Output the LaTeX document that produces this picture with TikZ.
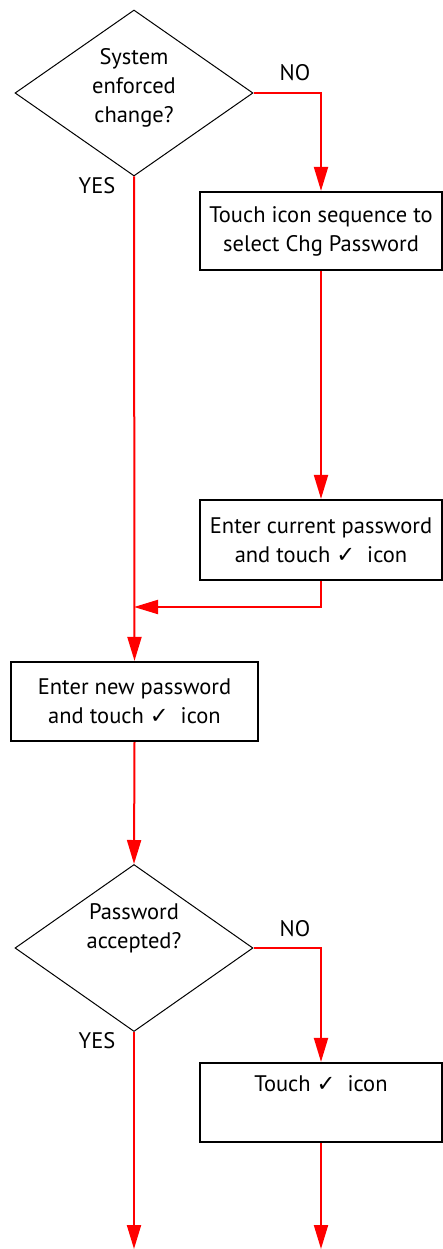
\documentclass[tikz,border=0pt]{standalone}
\usepackage{fontspec}
\setmainfont{PT Sans}
\newfontfamily\symfont{DejaVu Sans}
\usetikzlibrary{shapes.geometric,arrows.meta}
\newcommand{\tick}{{\symfont\bfseries ✓}}
\definecolor{flowred}{RGB}{255,0,0}
\begin{document}
\begin{tikzpicture}[x=1pt,y=-1pt,
  font=\fontsize{22.5}{29}\selectfont,
  box/.style={draw=black,line width=2.2pt,inner sep=0pt,align=center},
  decision/.style={draw=black,line width=1pt,diamond,inner sep=0pt,
    minimum width=238pt,minimum height=166pt},
  txt/.style={inner sep=0pt,align=center},
  flow/.style={draw=flowred,line width=2pt,
    -{Triangle[length=24pt,width=14pt]}}]
\useasboundingbox (0,0) rectangle (443,1249);

% first decision
\node[decision] (d1) at (134,93) {};
\node[txt] (d1t) at (134,88) {System\\enforced\\change?};
\node[txt] (no1) at (295,73) {NO};
\node[txt] (yes1) at (97,186) {YES};

% password change branch
\node[box,minimum width=242pt,minimum height=78pt] (b1) at (321,231)
  {Touch icon sequence to\\select Chg Password};
\node[box,minimum width=242pt,minimum height=80pt] (b2) at (321,540)
  {Enter current password\\and touch \tick\ \ icon};
\coordinate (j) at (134,607);

% new password
\node[box,minimum width=247pt,minimum height=79pt] (b3) at (134.5,701.5)
  {Enter new password\\and touch \tick\ \ icon};

% second decision
\node[decision,minimum height=167pt] (d2) at (134,948) {};
\node[txt] (d2t) at (134,928) {Password\\accepted?};
\node[txt] (no2) at (295,929) {NO};
\node[txt] (yes2) at (97,1041) {YES};

\node[box,minimum width=242pt,minimum height=79pt] (b4) at (321,1102.5)
  {Touch \tick\ \ icon\\[0pt]\strut};

\coordinate (e1) at (134,1249);
\coordinate (e2) at (321,1249);

% connectors
\draw[flow] (d1.east) -| (b1.north);
\draw[flow] (b1.south) -- (b2.north);
\draw[flow] (b2.south) |- (j);
\draw[flow] (d1.south) -- (b3.north);
\draw[flow] (b3.south) -- (d2.north);
\draw[flow] (d2.east) -| (b4.north);
\draw[flow] (d2.south) -- (e1);
\draw[flow] (b4.south) -- (e2);
\end{tikzpicture}
\end{document}
